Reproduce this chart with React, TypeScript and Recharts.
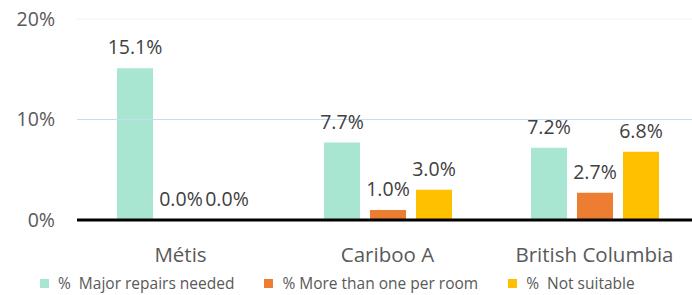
import { BarChart, Bar, XAxis, YAxis, ReferenceLine, LabelList } from 'recharts'

const categories = ['Métis', 'Cariboo A', 'British Columbia']
const majorRepairs = [15.1, 7.7, 7.2]
const moreThanOne = [0.0, 1.0, 2.7]
const notSuitable = [0.0, 3.0, 6.8]
const yTicks = [0, 10, 20]

const seriesNames = ['%  Major repairs needed', '% More than one per room', '%  Not suitable']
const seriesColors = ['#A9E6D2', '#ED7D31', '#FFC000']

const data = categories.map((name, i) => ({
  name,
  repairs: majorRepairs[i],
  crowded: moreThanOne[i],
  notSuitable: notSuitable[i],
}))

const FONT = '"Open Sans", "Liberation Sans", sans-serif'
const labelStyle = { fontFamily: FONT, fontSize: 19.5, fill: '#404040' }

const pct = (v: number) => `${Number(v).toFixed(1)}%`

export default function App() {
  return (
    <div style={{ position: 'absolute', left: 0, top: 0, width: 692, height: 295, overflow: 'hidden', background: '#fff' }}>
      <BarChart
        width={698}
        height={295}
        data={data}
        margin={{ top: 19, right: 0, left: 0, bottom: 28 }}
        barGap={10}
        barSize={36}
      >
        <ReferenceLine y={20} stroke="#EEF6F6" strokeWidth={1} />
        <ReferenceLine y={10} stroke="#C6DCEF" strokeWidth={1} />
        <XAxis
          dataKey="name"
          axisLine={{ stroke: '#000', strokeWidth: 3 }}
          tickLine={false}
          tickSize={0}
          tickMargin={27}
          height={47}
          tick={{ fontFamily: FONT, fontSize: 20.5, fill: '#595959' }}
        />
        <YAxis
          domain={[0, 20]}
          ticks={yTicks}
          tickFormatter={(v: number) => `${v}%`}
          axisLine={false}
          tickLine={false}
          tickSize={0}
          tickMargin={22}
          width={77}
          tick={{ fontFamily: FONT, fontSize: 19.5, fill: '#595959' }}
        />
        <Bar dataKey="repairs" fill={seriesColors[0]} minPointSize={0.01} isAnimationActive={false}>
          <LabelList dataKey="repairs" position="top" offset={14} formatter={pct} style={labelStyle} />
        </Bar>
        <Bar dataKey="crowded" fill={seriesColors[1]} minPointSize={0.01} isAnimationActive={false}>
          <LabelList dataKey="crowded" position="top" offset={14} formatter={pct} style={labelStyle} />
        </Bar>
        <Bar dataKey="notSuitable" fill={seriesColors[2]} minPointSize={0.01} isAnimationActive={false}>
          <LabelList dataKey="notSuitable" position="top" offset={14} formatter={pct} style={labelStyle} />
        </Bar>
      </BarChart>
      {/* legend drawn by hand so the spacing matches the original */}
      <div
        style={{
          position: 'absolute', left: 40, top: 273, height: 20, display: 'flex', alignItems: 'center',
          fontFamily: FONT, fontSize: 15.5, color: '#595959',
        }}
      >
        {seriesNames.map((n, i) => (
          <div key={n} style={{ display: 'flex', alignItems: 'center', marginRight: 30 }}>
            <span style={{ width: 9, height: 9, background: seriesColors[i], marginRight: 9, display: 'inline-block' }} />
            <span style={{ whiteSpace: 'pre' }}>{n}</span>
          </div>
        ))}
      </div>
    </div>
  )
}
